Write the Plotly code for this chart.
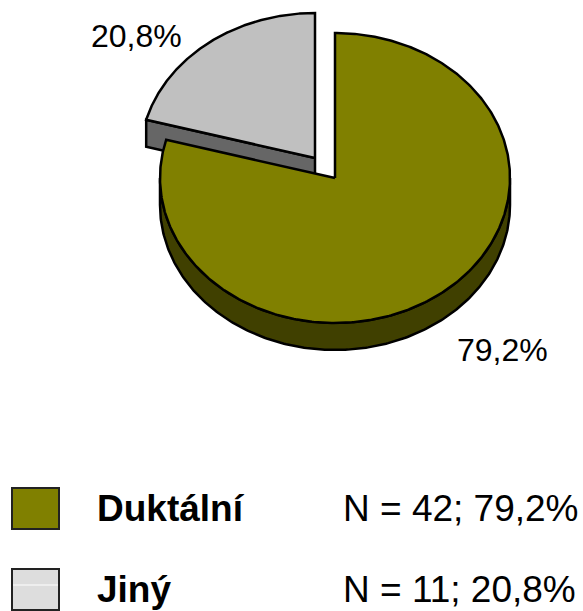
import numpy as np
import plotly.graph_objects as go

categories = ["Duktální", "Jiný"]
counts = [42, 11]
pie_labels = ["79,2%", "20,8%"]
legend_texts = ["N = 42; 79,2%", "N = 11; 20,8%"]
top_colors = ["#808000", "#C0C0C0"]
side_colors = ["#404000", "#666666"]
swatch_colors = ["#808000", "#DDDDDD"]

W, H = 583, 611
RX, RY, DEPTH = 175, 145, 27
OLIVE_C = (335, 178)
GRAY_C = (315, 158)

total = sum(counts)
sweep = [c / total * 2 * np.pi for c in counts]
gray_start = 2 * np.pi - sweep[1]


def arc(c, a0, a1, dy=0, n=240):
    t = np.linspace(a0, a1, n)
    return c[0] + RX * np.sin(t), c[1] - RY * np.cos(t) + dy


def poly(xs, ys, fill):
    return go.Scatter(x=list(xs), y=list(ys), mode="lines", fill="toself", fillcolor=fill,
                      line=dict(color="black", width=2.5), hoverinfo="skip", showlegend=False)


fig = go.Figure()

# Grey slice: cut face then top
ex, ey = arc(GRAY_C, gray_start, gray_start, n=1)
fig.add_trace(poly([GRAY_C[0], ex[0], ex[0], GRAY_C[0], GRAY_C[0]],
                   [GRAY_C[1], ey[0], ey[0] + DEPTH, GRAY_C[1] + DEPTH, GRAY_C[1]], side_colors[1]))
ax, ay = arc(GRAY_C, gray_start, 2 * np.pi)
fig.add_trace(poly(np.r_[GRAY_C[0], ax, GRAY_C[0]], np.r_[GRAY_C[1], ay, GRAY_C[1]], top_colors[1]))

# Olive slice: rim then top
lo = np.pi / 2
hi = 3 * np.pi / 2
tx, ty = arc(OLIVE_C, lo, hi)
bx, by = arc(OLIVE_C, hi, lo, dy=DEPTH)
fig.add_trace(poly(np.r_[tx, bx, tx[0]], np.r_[ty, by, ty[0]], side_colors[0]))
ax, ay = arc(OLIVE_C, 0, sweep[0], n=480)
fig.add_trace(poly(np.r_[OLIVE_C[0], ax, OLIVE_C[0]], np.r_[OLIVE_C[1], ay, OLIVE_C[1]], top_colors[0]))

# Legend swatches
swatch_y = [(488, 529), (569, 610)]
shapes = []
for (y0, y1), col in zip(swatch_y, swatch_colors):
    shapes.append(dict(type="rect", x0=12, x1=59, y0=y0, y1=y1, fillcolor=col,
                       line=dict(color="#222222", width=2), layer="above"))
shapes.append(dict(type="line", x0=13, x1=58, y0=585, y1=585,
                   line=dict(color="white", width=1), layer="above"))

FONT = "Liberation Sans, Arial, sans-serif"
ann = []


def text(x, y, s, size, bold=False):
    ann.append(dict(x=x, y=y, text=f"<b>{s}</b>" if bold else s, showarrow=False, xanchor="left",
                    yanchor="middle", xref="x", yref="y", align="left",
                    font=dict(family=FONT, size=size, color="black")))


text(89, 36, pie_labels[1], 32)
text(455, 350, pie_labels[0], 32)
text(95, 508, categories[0], 37, True)
text(95, 589, categories[1], 37, True)
text(341, 508, legend_texts[0], 37)
text(341, 589, legend_texts[1], 37)

fig.update_layout(width=W, height=H, margin=dict(l=0, r=0, t=0, b=0), autosize=False,
                  paper_bgcolor="white", plot_bgcolor="white", shapes=shapes, annotations=ann,
                  xaxis=dict(range=[0, W], visible=False, fixedrange=True),
                  yaxis=dict(range=[H, 0], visible=False, fixedrange=True))
fig.write_html("out.html", config=dict(displayModeBar=False),
               post_script="document.body.style.margin='0';document.body.style.overflow='hidden';")
